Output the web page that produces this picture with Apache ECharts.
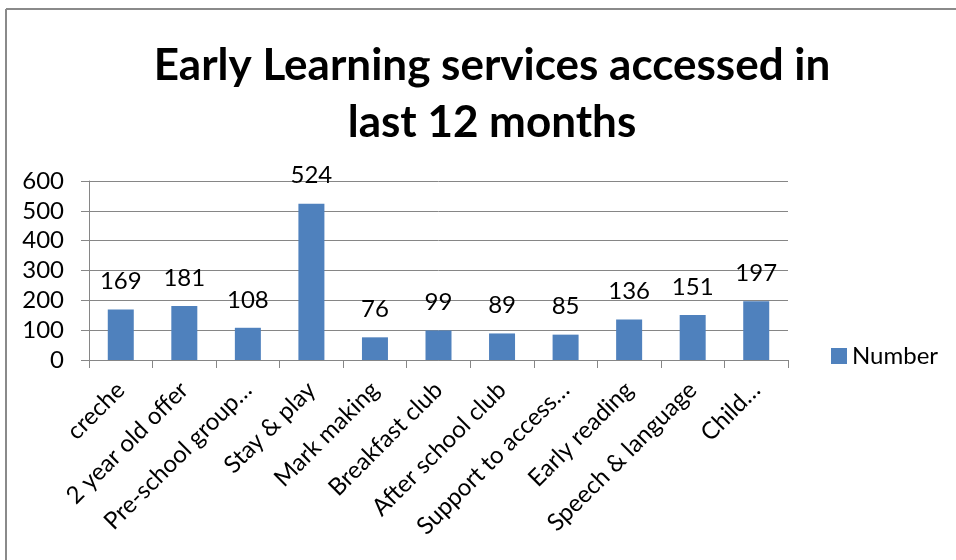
<!DOCTYPE html>
<html>
<head>
<meta charset="utf-8">
<script src="https://cdn.jsdelivr.net/npm/echarts@6/dist/echarts.min.js"></script>
<style>
html,body{margin:0;padding:0;background:#fff;}
#main{width:956px;height:560px;}
</style>
</head>
<body>
<div id="main"></div>
<script>
const categories = ["creche", "2 year old offer", "Pre-school group…", "Stay & play", "Mark making", "Breakfast club", "After school club", "Support to access…", "Early reading", "Speech & language", "Child…"];
const values = [169, 181, 108, 524, 76, 99, 89, 85, 136, 151, 197];
const seriesName = "Number";
const yTicks = [0, 100, 200, 300, 400, 500, 600];
const titleLines = ["Early Learning services accessed in", "last 12 months"];

const FONT = "Lato";
const chart = echarts.init(document.getElementById('main'), null, {renderer: 'canvas'});
chart.setOption({
  backgroundColor: '#ffffff',
  animation: false,
  graphic: [
    {type: 'line', shape: {x1: 6, y1: 9, x2: 956, y2: 9}, style: {stroke: '#8a8a8a', lineWidth: 2}},
    {type: 'line', shape: {x1: 6, y1: 9, x2: 6, y2: 560}, style: {stroke: '#8a8a8a', lineWidth: 2}}
  ],
  title: {
    text: titleLines.join('\n'),
    left: 487,
    textAlign: 'center',
    top: 32,
    textStyle: {fontFamily: FONT, fontWeight: 'bold', fontSize: 44, lineHeight: 57, color: '#000'}
  },
  legend: {
    data: [seriesName],
    left: 831,
    top: 344,
    padding: 0,
    icon: 'rect',
    itemWidth: 16,
    itemHeight: 16,
    itemGap: 6,
    textStyle: {fontFamily: FONT, fontSize: 24, color: '#000'}
  },
  grid: {left: 89, right: 168, top: 181, bottom: 200, containLabel: false},
  xAxis: {
    type: 'category',
    data: categories,
    axisLine: {show: true, lineStyle: {color: '#868686', width: 1}},
    axisTick: {show: true, alignWithLabel: false, length: 8, lineStyle: {color: '#868686'}},
    axisLabel: {rotate: 45, interval: 0, margin: 26, fontFamily: FONT, fontSize: 24, color: '#000'}
  },
  yAxis: {
    type: 'value',
    min: yTicks[0],
    max: yTicks[yTicks.length - 1],
    interval: yTicks[1] - yTicks[0],
    axisLine: {show: true, lineStyle: {color: '#868686', width: 1}},
    axisTick: {show: true, length: 8, lineStyle: {color: '#868686'}},
    splitLine: {show: true, lineStyle: {color: '#868686', width: 1}},
    axisLabel: {margin: 25, fontFamily: FONT, fontSize: 24, color: '#000'}
  },
  series: [{
    name: seriesName,
    type: 'bar',
    data: values,
    barWidth: 26,
    itemStyle: {color: '#4f81bd'},
    label: {show: true, position: 'top', distance: 16, fontFamily: FONT, fontSize: 24, color: '#000'}
  }]
});
</script>
</body>
</html>
